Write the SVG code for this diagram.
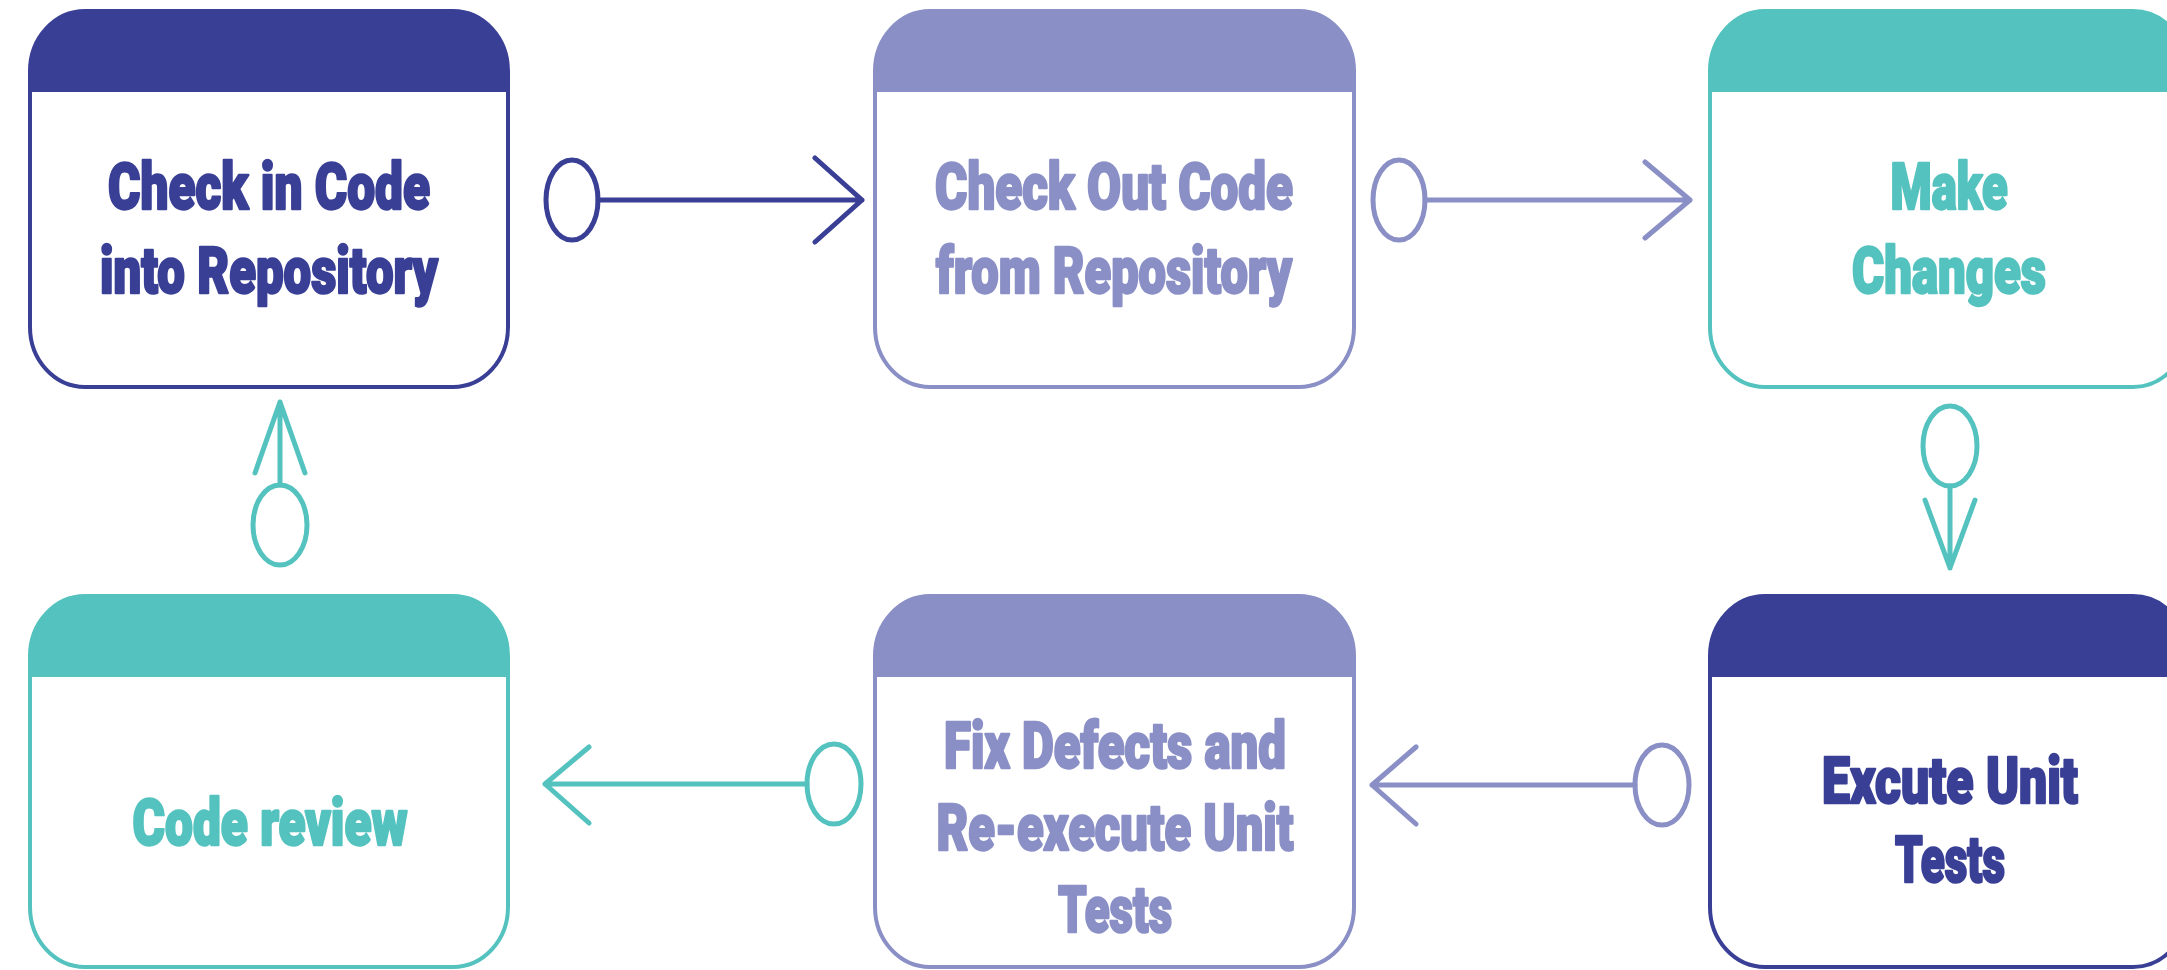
<svg xmlns="http://www.w3.org/2000/svg" width="2167" height="970" viewBox="0 0 2167 970">
  <defs>
    <style>
      .box-outline { fill: none; stroke-width: 4; }
      .label { font-family: Roboto, "Liberation Sans", Arial, sans-serif; font-weight: 900; font-size: 64px; text-anchor: middle; stroke-width: 2.5; stroke-linejoin: round; }
      .conn { fill: none; stroke-width: 5; stroke-linecap: round; stroke-linejoin: round; }
      .c-navy { stroke: #3a3f96; }
      .c-lav { stroke: #8a8fc6; }
      .c-teal { stroke: #54c2be; }
      .f-navy { fill: #3a3f96; }
      .f-lav { fill: #8a8fc6; }
      .f-teal { fill: #54c2be; }
      text.f-navy { stroke: #3a3f96; }
      text.f-lav { stroke: #8a8fc6; }
      text.f-teal { stroke: #54c2be; }
    </style>
  </defs>
  <rect width="2167" height="970" fill="#ffffff"/>

  <!-- Top row -->
  <g id="check-in">
    <rect x="30" y="11" width="478" height="376" rx="55" ry="60" fill="#ffffff"/>
    <path class="f-navy" d="M30,71 A55,60 0 0 1 85,11 H453 A55,60 0 0 1 508,71 V92 H30 Z"/>
    <rect class="box-outline c-navy" x="30" y="11" width="478" height="376" rx="55" ry="60"/>
    <text class="label f-navy" x="269" y="209" textLength="322" lengthAdjust="spacingAndGlyphs">Check in Code</text>
    <text class="label f-navy" x="269" y="293" textLength="338" lengthAdjust="spacingAndGlyphs">into Repository</text>
  </g>

  <g id="check-out">
    <rect x="875" y="11" width="479" height="376" rx="55" ry="60" fill="#ffffff"/>
    <path class="f-lav" d="M875,71 A55,60 0 0 1 930,11 H1299 A55,60 0 0 1 1354,71 V92 H875 Z"/>
    <rect class="box-outline c-lav" x="875" y="11" width="479" height="376" rx="55" ry="60"/>
    <text class="label f-lav" x="1114" y="209" textLength="358" lengthAdjust="spacingAndGlyphs">Check Out Code</text>
    <text class="label f-lav" x="1114" y="293" textLength="356" lengthAdjust="spacingAndGlyphs">from Repository</text>
  </g>

  <g id="make-changes">
    <rect x="1710" y="11" width="478" height="376" rx="55" ry="60" fill="#ffffff"/>
    <path class="f-teal" d="M1710,71 A55,60 0 0 1 1765,11 H2133 A55,60 0 0 1 2188,71 V92 H1710 Z"/>
    <rect class="box-outline c-teal" x="1710" y="11" width="478" height="376" rx="55" ry="60"/>
    <text class="label f-teal" x="1949" y="209" textLength="117" lengthAdjust="spacingAndGlyphs">Make</text>
    <text class="label f-teal" x="1949" y="293" textLength="194" lengthAdjust="spacingAndGlyphs">Changes</text>
  </g>

  <!-- Bottom row -->
  <g id="code-review">
    <rect x="30" y="596" width="478" height="371" rx="55" ry="60" fill="#ffffff"/>
    <path class="f-teal" d="M30,656 A55,60 0 0 1 85,596 H453 A55,60 0 0 1 508,656 V677 H30 Z"/>
    <rect class="box-outline c-teal" x="30" y="596" width="478" height="371" rx="55" ry="60"/>
    <text class="label f-teal" x="270" y="845" textLength="275" lengthAdjust="spacingAndGlyphs">Code review</text>
  </g>

  <g id="fix-defects">
    <rect x="875" y="596" width="479" height="371" rx="55" ry="60" fill="#ffffff"/>
    <path class="f-lav" d="M875,656 A55,60 0 0 1 930,596 H1299 A55,60 0 0 1 1354,656 V677 H875 Z"/>
    <rect class="box-outline c-lav" x="875" y="596" width="479" height="371" rx="55" ry="60"/>
    <text class="label f-lav" x="1115" y="768" textLength="342" lengthAdjust="spacingAndGlyphs">Fix Defects and</text>
    <text class="label f-lav" x="1115" y="850" textLength="357" lengthAdjust="spacingAndGlyphs">Re-execute Unit</text>
    <text class="label f-lav" x="1115" y="932" textLength="114" lengthAdjust="spacingAndGlyphs">Tests</text>
  </g>

  <g id="execute-tests">
    <rect x="1710" y="596" width="478" height="371" rx="55" ry="60" fill="#ffffff"/>
    <path class="f-navy" d="M1710,656 A55,60 0 0 1 1765,596 H2133 A55,60 0 0 1 2188,656 V677 H1710 Z"/>
    <rect class="box-outline c-navy" x="1710" y="596" width="478" height="371" rx="55" ry="60"/>
    <text class="label f-navy" x="1950" y="803" textLength="256" lengthAdjust="spacingAndGlyphs">Excute Unit</text>
    <text class="label f-navy" x="1950" y="882" textLength="110" lengthAdjust="spacingAndGlyphs">Tests</text>
  </g>

  <!-- Connectors: ring at the source end, open chevron at the target end -->
  <g id="connectors">
    <g class="conn c-navy">
      <ellipse cx="572" cy="200" rx="26" ry="40"/>
      <path d="M598,200 H862 M815,158 L862,200 L815,242"/>
    </g>
    <g class="conn c-lav">
      <ellipse cx="1399" cy="200" rx="26" ry="40"/>
      <path d="M1425,200 H1690 M1645,162 L1690,200 L1645,238"/>
    </g>
    <g class="conn c-teal">
      <ellipse cx="1950" cy="446" rx="27" ry="40"/>
      <path d="M1950,486 V568 M1925,500 L1950,568 L1975,500"/>
    </g>
    <g class="conn c-lav">
      <ellipse cx="1662" cy="785" rx="27" ry="40"/>
      <path d="M1635,785 H1372 M1416,747 L1372,785 L1416,824"/>
    </g>
    <g class="conn c-teal">
      <ellipse cx="834" cy="784" rx="27" ry="40"/>
      <path d="M807,784 H545 M589,747 L545,784 L589,823"/>
    </g>
    <g class="conn c-teal">
      <ellipse cx="280" cy="525" rx="27" ry="40"/>
      <path d="M280,485 V402 M255,473 L280,402 L305,473"/>
    </g>
  </g>
</svg>
